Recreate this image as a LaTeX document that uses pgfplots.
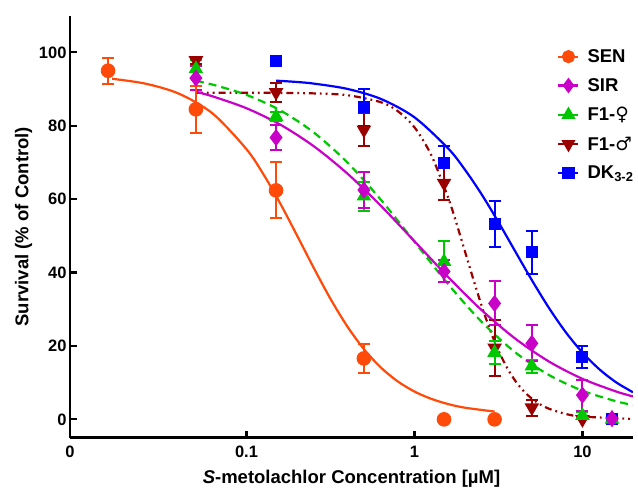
\documentclass[border=0pt]{standalone}
\usepackage{fontspec}
\setmainfont{Liberation Sans}
\newfontfamily\symfont{DejaVu Sans}
\usepackage{pgfplots}
\pgfplotsset{compat=1.18}
\definecolor{senc}{HTML}{FF4A0A}
\definecolor{sirc}{HTML}{C800C8}
\definecolor{ffc}{HTML}{00C800}
\definecolor{fmc}{HTML}{9A0000}
\definecolor{dkc}{HTML}{0000FF}

\pgfplotsset{
  curve/.style={smooth, no marks, line width=2.2bp, forget plot},
  pts/.style={only marks, forget plot, line width=2bp,
    error bars/y dir=both, error bars/y explicit,
    error bars/error bar style={line width=2bp, solid},
    error bars/error mark options={line width=2bp, mark size=6bp, solid, rotate=90}},
}

\begin{document}
\begin{tikzpicture}
\path[use as bounding box] (-70bp,-50.3bp) rectangle (568bp,437.7bp);
\begin{axis}[
    at={(0,0)}, anchor=south west,
    scale only axis, width=563bp, height=422bp,
    xmode=log, xmin=0.0089, xmax=20,
    ymin=-5, ymax=110,
    axis x line*=bottom, axis y line*=left,
    axis line style={line width=2.6bp, -},
    tick align=inside, major tick length=7bp, minor tick length=0pt,
    tick style={line width=2.2bp, black},
    xtick={0.1,1,10}, xticklabels={0.1,1,10},
    extra x ticks={0.0089}, extra x tick labels={0},
    extra x tick style={major tick length=0pt},
    ytick={0,20,40,60,80,100}, yticklabels={0,20,40,60,80,100},
    tick label style={font=\fontsize{16.5bp}{18bp}\selectfont\bfseries},
    xticklabel style={yshift=-5bp},
    /pgf/number format/assume math mode=true,
    xlabel={\textit{S}-metolachlor Concentration [µM]},
    ylabel={Survival (\% of Control)},
    label style={font=\fontsize{18.5bp}{20bp}\selectfont\bfseries},
    xlabel style={yshift=-5bp},
    legend style={draw=none, fill=none, at={(0.86,0.93)}, anchor=north west,
      font=\fontsize{18.5bp}{20bp}\selectfont\bfseries, row sep=10.5bp},
    legend cell align=left,
    legend image code/.code={\draw[mark repeat=2,mark phase=2,#1]
      plot coordinates {(0bp,0bp) (10bp,0bp) (20bp,0bp)};
      \path (26bp,0bp);},
]
% legend entries in the reference order
\addlegendimage{senc, line width=2.2bp, mark=*, mark size=5.5bp}
\addlegendentry{SEN}
\addlegendimage{sirc, line width=2.2bp, mark=diamond*, mark size=6bp}
\addlegendentry{SIR}
\addlegendimage{ffc, line width=2.2bp, mark=triangle*, mark size=6bp}
\addlegendentry{F1-{\symfont ♀}}
\addlegendimage{fmc, line width=2.2bp, mark=triangle*, mark size=6bp, mark options={rotate=180}}
\addlegendentry{F1-{\symfont ♂}}
\addlegendimage{dkc, line width=2.2bp, mark=square*, mark size=5bp}
\addlegendentry{DK\textsubscript{3-2}}

% fitted curves
\addplot[curve, dkc] coordinates {
 (0.15,92.30) (0.1995,91.94) (0.2512,91.50) (0.3981,90.06) (0.631,87.32)
 (1,82.31) (1.585,73.86) (1.995,68.08) (2.512,61.31) (3.162,53.75)
 (3.981,45.78) (5.012,37.85) (6.31,30.41) (7.943,23.80) (10,18.21)
 (12.59,13.68) (15.85,10.11) (20,7.37)};
\addplot[curve, fmc, dash pattern=on 7bp off 4bp on 1.8bp off 4bp on 1.8bp off 4bp] coordinates {
 (0.05,89.0) (0.1,88.99) (0.1585,88.96) (0.2512,88.83) (0.3981,88.34)
 (0.631,86.43) (0.7943,84.02) (1,79.59) (1.259,72.01) (1.585,60.5)
 (1.778,53.45) (1.995,45.88) (2.239,38.25) (2.512,30.96) (2.818,24.39)
 (3.162,18.77) (3.548,14.16) (3.981,10.52) (4.467,7.71) (5.012,5.60)
 (5.623,4.04) (6.31,2.90) (7.943,1.48) (10,0.75) (20,0.09)};
\addplot[curve, ffc, dash pattern=on 8bp off 5bp] coordinates {
 (0.05,92.21) (0.0631,91.20) (0.1,88.42) (0.1585,84.23) (0.2512,78.20)
 (0.3981,70.03) (0.631,59.84) (1,48.39) (1.585,36.87) (2.512,26.56)
 (3.981,18.26) (6.31,12.10) (10,7.80) (15.85,4.94) (20,3.91)};
\addplot[curve, sirc] coordinates {
 (0.05,89.24) (0.0631,88.0) (0.1,84.78) (0.1585,80.35) (0.2512,74.45)
 (0.3981,67.01) (0.631,58.20) (1,48.54) (1.585,38.81) (2.512,29.76)
 (3.981,22.0) (6.31,15.78) (10,11.04) (15.85,7.60) (20,6.25)};
\addplot[curve, senc] coordinates {
 (0.01585,92.81) (0.02512,91.47) (0.03981,88.71) (0.0631,83.29) (0.1,73.62)
 (0.1259,66.85) (0.1585,58.92) (0.1995,50.21) (0.2512,41.32) (0.3162,32.85)
 (0.3981,25.35) (0.5012,19.09) (0.631,14.13) (0.7943,10.36) (1,7.58)
 (1.259,5.59) (1.585,4.17) (1.995,3.18) (3,2.12)};

% data points with SEM bars
\addplot[pts, dkc, mark=square*, mark size=5bp] coordinates {
 (0.15,97.6) +- (0,0) (0.5,85.0) +- (0,5.0) (1.5,69.8) +- (0,4.6)
 (3,53.2) +- (0,6.2) (5,45.5) +- (0,5.8) (10,17.0) +- (0,2.9) (15,0.2) +- (0,0)};
\addplot[pts, fmc, mark=triangle*, mark size=6.5bp, mark options={rotate=180}] coordinates {
 (0.05,97.8) +- (0,1.0) (0.15,89.1) +- (0,2.6) (0.5,78.9) +- (0,4.5)
 (1.5,64.4) +- (0,4.6) (3,19.5) +- (0,7.6) (5,3.2) +- (0,2.2) (10,0) +- (0,0)};
\addplot[pts, ffc, mark=triangle*, mark size=6.5bp] coordinates {
 (0.05,95.5) +- (0,2.5) (0.15,82.5) +- (0,1.2) (0.5,60.8) +- (0,4.0)
 (1.5,43.0) +- (0,5.6) (3,18.2) +- (0,3.2) (5,14.5) +- (0,1.8)
 (10,1.0) +- (0,1.0) (15,0) +- (0,0)};
\addplot[pts, sirc, mark=diamond*, mark size=7bp] coordinates {
 (0.05,93.0) +- (0,3.2) (0.15,76.8) +- (0,3.3) (0.5,62.5) +- (0,5.0)
 (1.5,40.3) +- (0,3.0) (3,31.6) +- (0,6.0) (5,20.7) +- (0,4.9)
 (10,6.6) +- (0,4.2) (15,0.2) +- (0,0)};
\addplot[pts, senc, mark=*, mark size=6.3bp] coordinates {
 (0.015,95.0) +- (0,3.5) (0.05,84.5) +- (0,6.4) (0.15,62.4) +- (0,7.6)
 (0.5,16.6) +- (0,4.0) (1.5,0) +- (0,0) (3,0) +- (0,0)};
\end{axis}
\end{tikzpicture}
\end{document}
